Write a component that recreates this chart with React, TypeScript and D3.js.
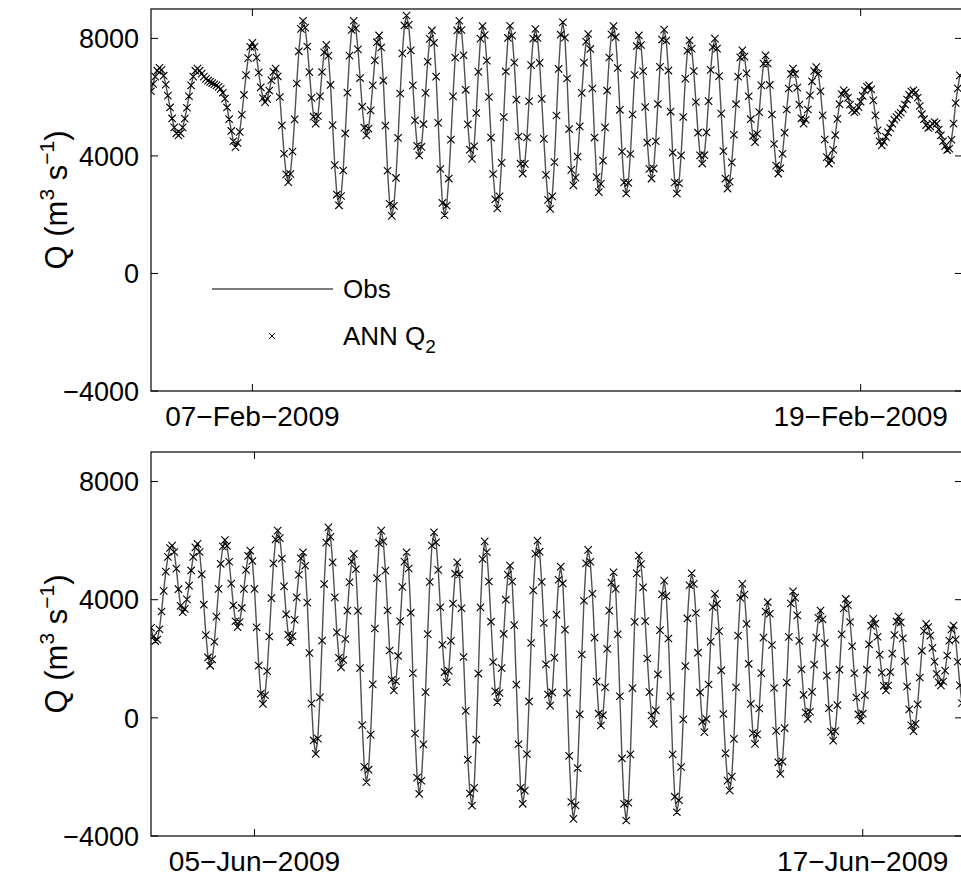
import React from 'react';
import * as d3 from 'd3';

// Hourly discharge, 05-Feb-2009 00:00 onward (m^3/s)
const obsFeb = [
  6200,6450,6700,6900,7000,6930,6730,6425,6050,5650,
  5275,4970,4770,4700,4770,4970,5270,5640,6030,6400,
  6700,6900,6970,6900,6800,6700,6620,6560,6520,6480,
  6440,6400,6350,6280,6150,5950,5650,5250,4850,4500,
  4300,4440,4820,5400,6075,6750,7330,7715,7850,7715,
  7345,6840,6335,5965,5830,5940,6225,6575,6860,6970,
  6710,6005,5040,4075,3370,3110,3385,4150,5245,6465,
  7560,8325,8600,8365,7725,6850,5975,5335,5100,5355,
  6025,6855,7525,7780,7415,6415,5050,3685,2685,2320,
  2635,3505,4765,6155,7415,8285,8600,8340,7625,6650,
  5675,4960,4700,4930,5550,6400,7250,7870,8100,7690,
  6565,5030,3495,2370,1960,2300,3250,4615,6125,7490,
  8440,8780,8460,7590,6400,5210,4340,4020,4305,5080,
  6145,7210,7985,8270,7850,6700,5125,3555,2400,1980,
  2310,3230,4555,6025,7350,8270,8600,8285,7425,6250,
  5075,4215,3900,4330,5460,6860,7990,8420,8110,7245,
  6005,4625,3385,2520,2210,2625,3765,5320,6875,8015,
  8430,8095,7175,5915,4660,3735,3400,3730,4630,5860,
  7090,7990,8320,8015,7165,5940,4580,3355,2505,2200,
  2625,3790,5375,6960,8125,8550,8025,6635,4915,3525,
  3000,3260,3975,5005,6145,7175,7890,8150,7640,6295,
  4625,3280,2770,3050,3840,4970,6220,7350,8135,8420,
  8040,6995,5570,4145,3100,2720,3080,4065,5410,6755,
  7740,8100,7775,6885,5665,4450,3555,3230,3570,4500,
  5765,7030,7960,8300,7925,6905,5510,4115,3095,2720,
  3070,4020,5325,6630,7580,7930,7650,6885,5835,4790,
  4020,3740,4025,4800,5865,6930,7705,7990,7650,6715,
  5440,4165,3230,2890,3125,3780,4720,5760,6700,7355,
  7590,7380,6810,6030,5250,4680,4470,4750,5490,6400,
  7140,7420,7150,6415,5410,4405,3670,3400,3580,4075,
  4790,5580,6295,6790,6970,6790,6325,5745,5280,5100,
  5230,5580,6060,6540,6890,7020,6800,6200,5380,4560,
  3960,3740,3865,4210,4710,5260,5760,6105,6230,6160,
  5975,5745,5560,5490,5535,5660,5845,6045,6230,6355,
  6400,6265,5890,5380,4870,4500,4360,4480,4650,4800,
  4950,5100,5230,5320,5400,5470,5600,5750,5920,6080,
  6190,6230,6150,5980,5700,5420,5250,5050,4950,5000,
  5100,5150,5100,4900,4700,4500,4330,4200,4250,4550,
  5100,5800,6300,6740,
];

// Hourly discharge, 02-Jun-2009 23:00 onward (m^3/s)
const obsJun = [
  3050,2750,2600,2650,3000,3600,4300,4950,5450,5750,
  5830,5615,5050,4355,3790,3575,3690,4010,4475,4990,
  5450,5770,5890,5615,4860,3830,2800,2045,1770,1980,
  2575,3425,4365,5215,5805,6020,5820,5285,4545,3810,
  3270,3070,3245,3720,4365,5010,5485,5660,5310,4365,
  3065,1770,820,470,765,1580,2755,4055,5230,6045,
  6340,6085,5395,4450,3505,2815,2560,2765,3320,4080,
  4845,5400,5605,5150,3900,2195,485,-765,-1220,-705,
  695,2615,4530,5935,6450,6130,5265,4080,2895,2030,
  1710,1965,2670,3630,4590,5295,5550,5030,3620,1685,
  -245,-1660,-2180,-1755,-570,1135,3025,4730,5915,6340,
  5975,4985,3635,2280,1290,925,1240,2095,3265,4435,
  5290,5605,5055,3560,1515,-530,-2025,-2575,-2130,-900,
  870,2835,4605,5835,6280,5940,5010,3745,2475,1545,
  1205,1590,2605,3865,4880,5265,4855,3710,2060,235,
  -1415,-2560,-2970,-2370,-735,1500,3740,5375,5975,5610,
  4615,3255,1890,895,530,840,1685,2840,4000,4845,
  5155,4615,3140,1125,-895,-2370,-2910,-2465,-1225,555,
  2535,4315,5555,6000,5625,4605,3210,1810,790,415,
  860,2040,3495,4675,5120,4550,2985,850,-1285,-2850,
  -3420,-2965,-1700,120,2145,3965,5230,5685,5285,4200,
  2715,1225,140,-260,90,1035,2335,3630,4580,4930,
  4365,2830,730,-1375,-2910,-3475,-2875,-1235,1005,3250,
  4890,5490,5205,4415,3275,2010,870,80,-205,255,
  1470,2970,4185,4645,4120,2685,725,-1235,-2670,-3195,
  -2790,-1665,-50,1750,3365,4490,4895,4535,3550,2205,
  860,-125,-485,-40,1130,2580,3750,4195,3860,2935,
  1605,130,-1200,-2125,-2460,-1990,-710,1035,2785,4065,
  4535,4170,3180,1830,475,-515,-880,-560,320,1515,
  2715,3595,3915,3525,2465,1010,-440,-1505,-1895,-1480,
  -350,1195,2740,3870,4285,4070,3470,2605,1645,780,
  180,-35,210,880,1800,2715,3385,3630,3335,2530,
  1430,330,-475,-770,-450,430,1630,2825,3705,4025,
  3820,3245,2425,1510,690,115,-90,140,770,1630,
  2490,3120,3350,3190,2745,2140,1530,1085,925,1095,
  1550,2175,2805,3260,3430,3235,2695,1920,1060,285,
  -255,-450,-205,455,1365,2270,2935,3180,3075,2785,
  2370,1905,1490,1200,1095,1230,1600,2110,2615,2990,
  3125,2650,1900,1100,500,
];

// ANN Q2 predictions (coincide with the observations at the plotted resolution)
const annFeb = obsFeb;
const annJun = obsJun;

const yTicks = [-4000, 0, 4000, 8000];
const yTickLabels = ['\u22124000', '0', '4000', '8000'];
const yDomain = [-4000, 9000];

const febStart = Date.UTC(2009, 1, 5, 0);
const febEnd = Date.UTC(2009, 1, 21, 0);
const febTicks = [Date.UTC(2009, 1, 7), Date.UTC(2009, 1, 19)];
const febTickLabels = ['07\u2212Feb\u22122009', '19\u2212Feb\u22122009'];

const junStart = Date.UTC(2009, 5, 2, 23);
const junEnd = Date.UTC(2009, 5, 18, 23);
const junTicks = [Date.UTC(2009, 5, 5), Date.UTC(2009, 5, 17)];
const junTickLabels = ['05\u2212Jun\u22122009', '17\u2212Jun\u22122009'];

const legendLabels = ['Obs', 'ANN Q'];

const HOUR = 3600 * 1000;
const FONT = '"Liberation Sans", Arial, Helvetica, sans-serif';
const LEFT = 151;
const RIGHT = 962;
const TICK = 7;

function xMarks(pts: [number, number][], s: number) {
  return pts
    .map(([x, y]) => `M${x - s},${y - s}L${x + s},${y + s}M${x - s},${y + s}L${x + s},${y - s}`)
    .join('');
}

type PanelProps = {
  id: string;
  top: number;
  bottom: number;
  start: number;
  end: number;
  obs: number[];
  ann: number[];
  ticks: number[];
  tickLabels: string[];
  legend?: boolean;
};

function Panel({ id, top, bottom, start, end, obs, ann, ticks, tickLabels, legend }: PanelProps) {
  const x = d3.scaleUtc().domain([new Date(start), new Date(end)]).range([LEFT, RIGHT]);
  const y = d3.scaleLinear().domain(yDomain).range([bottom, top]);
  const linePts: [number, number][] = obs.map((v, i) => [x(new Date(start + i * HOUR)), y(v)]);
  const annPts: [number, number][] = ann.map((v, i) => [x(new Date(start + i * HOUR)), y(v)]);
  const lineGen = d3.line();
  const yMid = (top + bottom) / 2;
  return (
    <g>
      <defs>
        <clipPath id={`clip-${id}`}>
          <rect x={LEFT} y={top} width={RIGHT - LEFT} height={bottom - top} />
        </clipPath>
      </defs>
      <g clipPath={`url(#clip-${id})`}>
        <path d={lineGen(linePts) || ''} fill="none" stroke="#505050" strokeWidth={1.4} />
        <path d={xMarks(annPts, 3.7)} fill="none" stroke="#000" strokeWidth={1.1} />
      </g>
      {/* frame */}
      <rect x={LEFT} y={top} width={RIGHT - LEFT} height={bottom - top} fill="none" stroke="#000" strokeWidth={1.2} />
      {/* y ticks */}
      {yTicks.map((t, i) => (
        <g key={`yt${i}`}>
          <line x1={LEFT} x2={LEFT + TICK} y1={y(t)} y2={y(t)} stroke="#000" strokeWidth={1} />
          <line x1={RIGHT - TICK} x2={RIGHT} y1={y(t)} y2={y(t)} stroke="#000" strokeWidth={1} />
          <text x={LEFT - 12} y={y(t)} dy="0.36em" textAnchor="end" fontSize={27} fontFamily={FONT}>
            {yTickLabels[i]}
          </text>
        </g>
      ))}
      {/* x ticks */}
      {ticks.map((t, i) => (
        <g key={`xt${i}`}>
          <line x1={x(new Date(t))} x2={x(new Date(t))} y1={bottom} y2={bottom - TICK} stroke="#000" strokeWidth={1} />
          <line x1={x(new Date(t))} x2={x(new Date(t))} y1={top} y2={top + TICK} stroke="#000" strokeWidth={1} />
          <text x={x(new Date(t))} y={bottom + 35} textAnchor="middle" fontSize={28} fontFamily={FONT}>
            {tickLabels[i]}
          </text>
        </g>
      ))}
      {/* y label */}
      <text transform={`translate(67,${yMid}) rotate(-90)`} textAnchor="middle" fontSize={31} fontFamily={FONT}>
        Q (m<tspan fontSize={21} dy={-13}>3</tspan>
        <tspan dy={13}> s</tspan>
        <tspan fontSize={21} dy={-13}>{'\u22121'}</tspan>
        <tspan dy={13}>)</tspan>
      </text>
      {legend && (
        <g>
          <line x1={212} x2={333} y1={289} y2={289} stroke="#505050" strokeWidth={1.3} />
          <text x={343} y={298} fontSize={26} fontFamily={FONT}>{legendLabels[0]}</text>
          <path d={xMarks([[272, 336]], 3)} stroke="#000" strokeWidth={1} fill="none" />
          <text x={343} y={345} fontSize={26} fontFamily={FONT}>
            {legendLabels[1]}
            <tspan fontSize={19} dy={8}>2</tspan>
          </text>
        </g>
      )}
    </g>
  );
}

export default function App() {
  return (
    <svg
      width={961}
      height={878}
      viewBox="0 0 961 878"
      style={{ position: 'absolute', left: 0, top: 0, background: '#fff' }}
    >
      <rect x={0} y={0} width={961} height={878} fill="#fff" />
      <Panel id="feb" top={9} bottom={391} start={febStart} end={febEnd} obs={obsFeb} ann={annFeb}
        ticks={febTicks} tickLabels={febTickLabels} legend />
      <Panel id="jun" top={452} bottom={836} start={junStart} end={junEnd} obs={obsJun} ann={annJun}
        ticks={junTicks} tickLabels={junTickLabels} />
    </svg>
  );
}
